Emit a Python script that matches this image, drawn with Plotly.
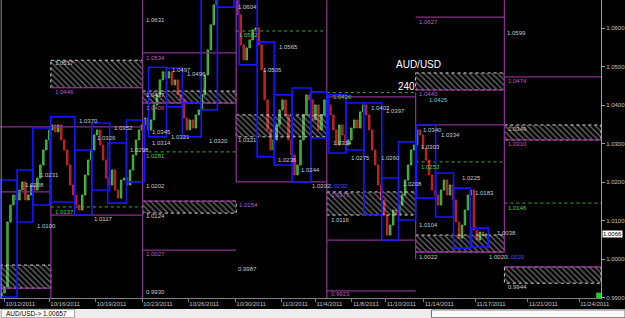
import plotly.graph_objects as go

# ---------------- data ----------------
first_open = 0.9905
closes = [
    0.9913, 0.9928, 1.0097, 1.0141, 1.0167, 1.0154, 1.0180, 1.0201, 1.0154, 1.0167,
    1.0193, 1.0180, 1.0211, 1.0245, 1.0284, 1.0310, 1.0336, 1.0349, 1.0331, 1.0349,
    1.0310, 1.0284, 1.0245, 1.0193, 1.0167, 1.0141, 1.0128, 1.0167, 1.0219, 1.0258,
    1.0284, 1.0323, 1.0336, 1.0297, 1.0258, 1.0211, 1.0193, 1.0232, 1.0180, 1.0159,
    1.0206, 1.0211, 1.0193, 1.0232, 1.0271, 1.0310, 1.0336, 1.0349, 1.0367, 1.0336,
    1.0362, 1.0401, 1.0427, 1.0466, 1.0487, 1.0471, 1.0487, 1.0453, 1.0466, 1.0427,
    1.0414, 1.0367, 1.0336, 1.0362, 1.0341, 1.0375, 1.0388, 1.0427, 1.0479, 1.0544,
    1.0609, 1.0661, 1.0700, 1.0712, 1.0705, 1.0725, 1.0712, 1.0700, 1.0686, 1.0635,
    1.0557, 1.0518, 1.0549, 1.0570, 1.0596, 1.0601, 1.0557, 1.0492, 1.0414, 1.0336,
    1.0284, 1.0310, 1.0349, 1.0388, 1.0414, 1.0375, 1.0310, 1.0271, 1.0219, 1.0245,
    1.0310, 1.0375, 1.0427, 1.0414, 1.0362, 1.0401, 1.0336, 1.0375, 1.0414, 1.0401,
    1.0375, 1.0336, 1.0297, 1.0349, 1.0323, 1.0297, 1.0310, 1.0341, 1.0362, 1.0341,
    1.0383, 1.0401, 1.0375, 1.0336, 1.0284, 1.0245, 1.0193, 1.0154, 1.0115, 1.0063,
    1.0089, 1.0128, 1.0115, 1.0141, 1.0167, 1.0206, 1.0245, 1.0284, 1.0297, 1.0336,
    1.0323, 1.0289, 1.0258, 1.0219, 1.0180, 1.0167, 1.0141, 1.0180, 1.0206, 1.0167,
    1.0193, 1.0154, 1.0097, 1.0055, 1.0089, 1.0128, 1.0167, 1.0180, 1.0076, 1.0050,
    1.0071, 1.0061, 1.00657,
]
last_price = 1.00657
symbol_text = "AUD/USD"
period_text = "240"

price_ticks = [0.99, 1.00, 1.01, 1.02, 1.03, 1.04, 1.05, 1.06]
price_tick_text = ["0.9900", "1.0000", "1.0100", "1.0200", "1.0300", "1.0400", "1.0500", "1.0600"]
price_min, price_max = 0.98995, 1.06735
bars_visible = 201

date_tick_bars = [1.5, 16.5, 32, 47.5, 63, 78.7, 94, 105.5, 117.7, 129, 141.7, 159, 176.5, 193.7]
date_tick_labels = ["10/12/2011", "10/16/2011", "10/19/2011", "10/23/2011", "10/26/2011",
                    "10/30/2011", "11/2/2011", "11/4/2011", "11/8/2011", "11/10/2011",
                    "11/14/2011", "11/17/2011", "11/21/2011", "11/24/2011"]

# weekly boundaries (bar units)
week_bounds = [0, 17, 47.7, 79, 109.3, 139, 168.7, 201]

# daily range boxes
day_start = [0, 5.7, 11, 17, 25, 30.7, 36, 42.3, 49.7, 55.7, 61, 67.3, 72.7, 80, 86, 91.7,
             97.7, 104, 110, 115.7, 121.7, 127.7, 133.3, 139.3, 145.7, 151.7, 157.7]
day_end = [5.7, 11, 16.7, 25, 30.7, 36.7, 42.3, 48.3, 55.7, 61, 67.3, 72.7, 78.3, 86, 91.7, 97.7,
           104, 109.3, 115.7, 121.7, 127.7, 133.3, 139, 145.7, 151.7, 157.3, 163.3]
day_high = [1.0206, 1.0232, 1.0341, 1.0370, 1.0284, 1.0354, 1.0302, 1.0362, 1.0499, 1.0497,
            1.0406, 1.0686, 1.0800, 1.0690, 1.0564, 1.0427, 1.0445, 1.0435, 1.0427, 1.0406,
            1.0406, 1.0211, 1.0305, 1.0349, 1.0224, 1.0185, 1.0081]
day_low = [0.9902, 1.0097, 1.0141, 1.0149, 1.0115, 1.0180, 1.0146, 1.0201, 1.0318, 1.0396,
           1.0318, 1.0388, 1.0655, 1.0505, 1.0266, 1.0245, 1.0201, 1.0315, 1.0276, 1.0284,
           1.0115, 1.0050, 1.0102, 1.0159, 1.0110, 1.0029, 1.0032]

# hatched supply/demand zones: week index, top, bottom
zone_week = [0, 1, 2, 2, 3, 4, 5, 5, 6, 6]
zone_top = [0.9985, 1.0517, 1.0437, 1.0151, 1.0375, 1.0175, 1.0484, 1.0063, 1.0349, 0.9980]
zone_bottom = [0.9925, 1.0446, 1.0406, 1.0120, 1.0318, 1.0115, 1.0440, 1.0019, 1.0310, 0.9938]

# purple levels: start bar, end bar, price
lvl_start = [0, 47.7, 17, 47.7, 79, 47.7, 47.7, 17, 0, 0, 109.3, 109.3, 139, 139, 139, 139,
             168.7, 168.7, 168.7, 109.3]
lvl_end = [47.7, 79, 47.7, 79, 109.3, 79, 79, 47.7, 17, 17, 139, 139, 168.7, 168.7, 168.7,
           168.7, 201, 201, 201, 139]
lvl_price = [1.0344, 1.0536, 1.0446, 1.0406, 1.0201, 1.0151, 1.0024, 1.0115, 1.0175, 0.9925,
             1.0050, 0.9918, 1.0629, 1.0440, 1.0349, 1.0019, 1.0474, 1.0310, 0.9980, 1.0422]

# green dotted pivot per week: week index, price
pivot_week = [1, 2, 3, 4, 5, 6]
pivot_price = [1.0136, 1.0279, 1.0593, 1.0433, 1.0253, 1.0146]

# purple week separators: bar, top, bottom
sep_bar = [17, 47.7, 79, 109.3, 139, 168.7]
sep_top = [1.0344, 1.0673, 1.0673, 1.0673, 1.0433, 1.0673]
sep_bottom = [0.9899, 0.9899, 1.0201, 0.9899, 1.0000, 1.0019]

# price labels: text, bar, price, kind
lab_text = ["1.0631", "1.0604", "1.0565", "1.0505", "1.0599", "1.0517", "1.0497", "1.0496",
            "1.0437", "1.0370", "1.0352", "1.0326", "1.0345", "1.0314", "1.0321", "1.0320",
            "1.0321", "1.0298", "1.0231", "1.0208", "1.0202", "1.0100", "1.0117", "1.0124",
            "0.9930", "0.9987", "1.0236", "1.0244", "1.0202", "1.0116", "1.0403", "1.0397",
            "1.0275", "1.0260", "1.0314", "1.0340", "1.0334", "1.0303", "1.0208", "1.0104",
            "1.0225", "1.0183", "1.0022", "1.0020", "1.0038", "0.9944", "1.0349",
            "1.0446", "1.0534", "1.0406", "1.0027", "1.0154", "0.9923", "1.0627", "1.0440",
            "1.0474", "1.0310", "1.0177",
            "1.0137", "1.0281", "1.0592", "1.0426", "1.0253", "1.0146",
            "1.0425", "1.0202", "1.0020"]
lab_bar = [48.3, 79, 92.7, 87.3, 169, 17.7, 56.7, 62, 48.3, 25.7, 37.3, 31.7, 50, 50, 56.5, 69.3,
           79, 42.7, 12.7, 7.7, 48.3, 11.7, 30.7, 48.3, 48.3, 79, 92.3, 100, 103.7, 110, 123.3,
           128.3, 116.7, 126.7, 110.7, 140.7, 146.7, 140, 134, 139.3, 154, 158.3, 139.3, 163,
           165.7, 169.3, 169.3,
           17.7, 48.3, 48.3, 48.3, 79.3, 110, 139.3, 139.3, 169.3, 169.3, 110,
           17.7, 48.3, 79.3, 110.7, 140, 169.3,
           142.7, 109.5, 168.5]
lab_price = [1.0622, 1.0655, 1.0551, 1.0492, 1.0588, 1.0510, 1.0492, 1.0481, 1.0427, 1.0359,
             1.0341, 1.0315, 1.0331, 1.0302, 1.0318, 1.0307, 1.0310, 1.0284, 1.0219, 1.0193,
             1.0190, 1.0087, 1.0105, 1.0113, 0.9915, 0.9975, 1.0258, 1.0232, 1.0190, 1.0102,
             1.0393, 1.0385, 1.0263, 1.0263, 1.0302, 1.0336, 1.0323, 1.0292, 1.0196, 1.0089,
             1.0211, 1.0172, 1.0006, 1.0006, 1.0068, 0.9928, 1.0338,
             1.0435, 1.0523, 1.0393, 1.0014, 1.0141, 0.9910, 1.0616, 1.0429, 1.0463, 1.0299,
             1.0167,
             1.0123, 1.0268, 1.0583, 1.0422, 1.0240, 1.0133,
             1.0414, 1.0190, 1.0006]
lab_kind = (["white"] * 47 + ["purple"] * 11 + ["green"] * 6 + ["cyan", "blue", "blue"])

# ---------------- styles ----------------
colors = {"white": "#c8c8c8", "purple": "#c35ac3", "green": "#4fc84f", "cyan": "#4ec8d0",
          "blue": "#4a4aff"}
purple_line = "#86308a"
label_font = "Liberation Sans, Arial, sans-serif"

opens = [first_open] + closes[:-1]
xs = [i + 0.5 for i in range(len(closes))]

up_x, up_base, up_len, dn_x, dn_base, dn_len = [], [], [], [], [], []
for x, o, c in zip(xs, opens, closes):
    if c >= o:
        up_x.append(x); up_base.append(o); up_len.append(c - o)
    else:
        dn_x.append(x); dn_base.append(c); dn_len.append(o - c)

fig = go.Figure()
fig.add_trace(go.Bar(x=up_x, y=up_len, base=up_base, width=0.5,
                     marker=dict(color="#1f8a1f", line=dict(color="#5ad85a", width=0.8)),
                     showlegend=False, hoverinfo="skip"))
fig.add_trace(go.Bar(x=dn_x, y=dn_len, base=dn_base, width=0.5,
                     marker=dict(color="#b01414", line=dict(color="#d83030", width=0.8)),
                     showlegend=False, hoverinfo="skip"))

# hatched zones
for w, top, bot in zip(zone_week, zone_top, zone_bottom):
    x0, x1 = week_bounds[w], week_bounds[w + 1]
    fig.add_trace(go.Scatter(
        x=[x0, x1, x1, x0, x0], y=[top, top, bot, bot, top], mode="lines",
        fill="toself", fillcolor="rgba(0,0,0,0)",
        fillpattern=dict(shape="\\", fgcolor="#e0e0e0", bgcolor="rgba(0,0,0,0)", size=4, solidity=0.3),
        line=dict(color="#d8d8d8", width=1, dash="dot"),
        showlegend=False, hoverinfo="skip"))

shapes = []
for x0, x1, p in zip(lvl_start, lvl_end, lvl_price):
    shapes.append(dict(type="line", xref="x", yref="y", x0=x0, x1=x1, y0=p, y1=p,
                       line=dict(color=purple_line, width=1.3)))
for b, t, bt in zip(sep_bar, sep_top, sep_bottom):
    shapes.append(dict(type="line", xref="x", yref="y", x0=b, x1=b, y0=bt, y1=t,
                       line=dict(color=purple_line, width=1.3)))
for w, p in zip(pivot_week, pivot_price):
    shapes.append(dict(type="line", xref="x", yref="y", x0=week_bounds[w], x1=week_bounds[w + 1],
                       y0=p, y1=p, line=dict(color="#3fa83f", width=1, dash="dot")))
for x0, x1, hi, lo in zip(day_start, day_end, day_high, day_low):
    shapes.append(dict(type="rect", xref="x", yref="y", x0=x0, x1=x1, y0=lo, y1=hi,
                       line=dict(color="#1616ff", width=1.6), fillcolor="rgba(0,0,0,0)"))

# frame pieces / status bar
shapes.append(dict(type="line", xref="paper", yref="paper", x0=0.002, x1=0.002, y0=0, y1=1,
                   line=dict(color="#909090", width=1)))
shapes.append(dict(type="rect", xref="paper", yref="paper", x0=-0.01, x1=1.04, y0=-0.0671, y1=-0.0369,
                   line=dict(width=0), fillcolor="#ececec", layer="above"))
shapes.append(dict(type="rect", xref="paper", yref="paper", x0=0.002, x1=0.124, y0=-0.066, y1=-0.038,
                   line=dict(color="#a0a0a0", width=1), fillcolor="#ffffff", layer="above"))
shapes.append(dict(type="rect", xref="paper", yref="paper", x0=0.718, x1=1.04, y0=-0.066, y1=-0.040,
                   line=dict(color="#707070", width=1), fillcolor="#f8f8f8", layer="above"))
shapes.append(dict(type="rect", xref="paper", yref="paper", x0=0.992, x1=1.0, y0=0.0, y1=0.018,
                   line=dict(width=0), fillcolor="#22cc22"))

annotations = []
for t, b, p, k in zip(lab_text, lab_bar, lab_price, lab_kind):
    annotations.append(dict(x=b, y=p, xref="x", yref="y", text=t, showarrow=False,
                            xanchor="left", yanchor="middle",
                            font=dict(family=label_font, size=6, color=colors[k])))
annotations.append(dict(x=131.7, y=1.0505, xref="x", yref="y", text=symbol_text, showarrow=False,
                        xanchor="left", yanchor="middle",
                        font=dict(family=label_font, size=10, color="#ffffff")))
annotations.append(dict(x=132.3, y=1.0450, xref="x", yref="y", text=period_text, showarrow=False,
                        xanchor="left", yanchor="middle",
                        font=dict(family=label_font, size=10, color="#ffffff")))
annotations.append(dict(x=1.0, y=last_price, xref="paper", yref="y", text="%.4f" % last_price,
                        showarrow=False, xanchor="left", yanchor="middle", bgcolor="#ffffff",
                        borderpad=0, xshift=1,
                        font=dict(family=label_font, size=6, color="#000000")))
annotations.append(dict(x=0.006, y=-0.052, xref="paper", yref="paper",
                        text="%s-> %.5f" % (symbol_text, last_price), showarrow=False,
                        xanchor="left", yanchor="middle",
                        font=dict(family=label_font, size=6.5, color="#000000")))

fig.update_layout(
    width=625, height=318,
    margin=dict(l=0, r=22, t=0, b=20, pad=0),
    paper_bgcolor="#000000", plot_bgcolor="#000000",
    showlegend=False, barmode="overlay",
    shapes=shapes, annotations=annotations,
    xaxis=dict(range=[0, bars_visible],
               showgrid=False, zeroline=False, showline=True, linecolor="#808080", linewidth=1,
               ticks="outside", ticklen=3, tickcolor="#808080", tickangle=0,
               tickvals=date_tick_bars, ticktext=date_tick_labels,
               ticklabelposition="outside right", ticklabeloverflow="allow",
               tickfont=dict(family=label_font, size=6, color="#c0c0c0")),
    yaxis=dict(range=[price_min, price_max], side="right",
               showgrid=False, zeroline=False, showline=True, linecolor="#a0a0a0", linewidth=1,
               ticks="outside", ticklen=3, tickcolor="#a0a0a0",
               tickvals=price_ticks, ticktext=price_tick_text,
               tickfont=dict(family=label_font, size=6, color="#c0c0c0")),
)

fig.write_html("out.html")
